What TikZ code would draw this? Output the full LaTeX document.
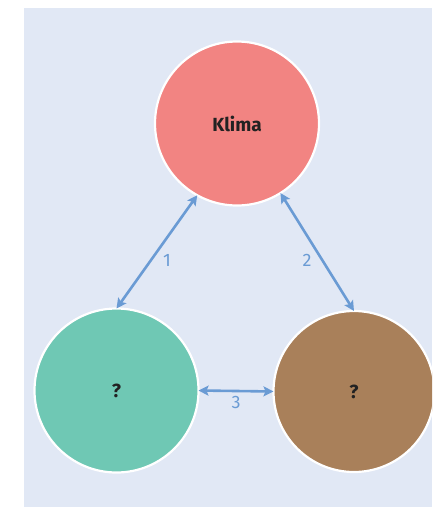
\documentclass[tikz,border=0pt]{standalone}
\usepackage{fontspec}
\setmainfont{Fira Sans}
\usetikzlibrary{arrows.meta}
\definecolor{bgblue}{HTML}{E1E8F5}
\definecolor{klimared}{HTML}{F28482}
\definecolor{qgreen}{HTML}{6FC8B4}
\definecolor{qbrown}{HTML}{A9805A}
\definecolor{arrowblue}{HTML}{6A9BD4}
\definecolor{txtdark}{HTML}{222222}
\tikzset{
  bubble/.style={circle, draw=white, line width=2.2pt, inner sep=0pt, outer sep=0pt,
    minimum size=164pt, font=\fontsize{19}{21}\selectfont\bfseries, text=txtdark},
  link/.style={draw=arrowblue, line width=2.6pt, {Stealth[length=10pt,width=10pt,inset=2pt]}-{Stealth[length=10pt,width=10pt,inset=2pt]}},
  numlabel/.style={text=arrowblue, font=\fontsize{18}{20}\selectfont}
}
\begin{document}
\begin{tikzpicture}[x=1pt,y=-1pt]
\useasboundingbox (0,0) rectangle (432,507);
\fill[white] (0,0) rectangle (432,507);
\fill[bgblue] (24,8) rectangle (432,507);
\begin{scope}
\clip (0,0) rectangle (432,507);
\node[bubble, fill=klimared] (klima) at (237,123.5) {Klima};
\node[bubble, fill=qgreen] (green) at (116.5,390.5) {?};
\node[bubble, fill=qbrown, minimum size=161pt] (brown) at (354,391.5) {?};
\end{scope}
\draw[link] (klima.241) -- (green.90);
\draw[link] (klima.302) -- (brown.90);
\draw[link] (green.0) -- (brown.180);
\node[numlabel] (n1) at (167,260) {1};
\node[numlabel] (n2) at (307,260) {2};
\node[numlabel] (n3) at (236,402) {3};
\end{tikzpicture}
\end{document}
